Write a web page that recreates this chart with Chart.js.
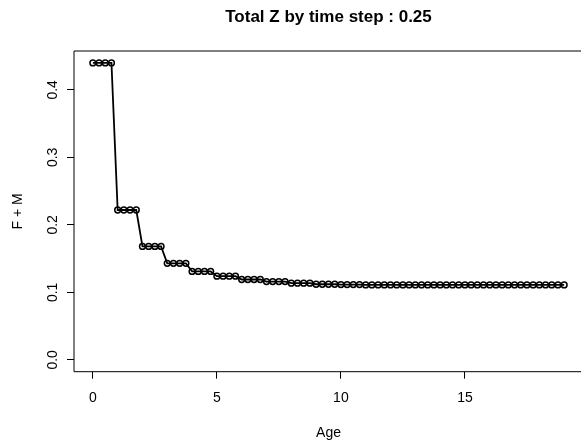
<!DOCTYPE html>
<html>
<head>
<meta charset="utf-8">
<script src="https://cdn.jsdelivr.net/npm/chart.js@4/dist/chart.umd.min.js"></script>
<style>
  html, body { margin: 0; padding: 0; background: #fff; overflow: hidden; }
  #wrap { width: 581px; height: 442px; overflow: hidden; }
</style>
</head>
<body>
<div id="wrap"><canvas id="zChart" width="640" height="442"></canvas></div>
<script>
// Age at each time step (0.25 yr)
const ages = [
  0, 0.25, 0.5, 0.75, 1, 1.25, 1.5, 1.75, 2, 2.25, 2.5, 2.75,
  3, 3.25, 3.5, 3.75, 4, 4.25, 4.5, 4.75, 5, 5.25, 5.5, 5.75,
  6, 6.25, 6.5, 6.75, 7, 7.25, 7.5, 7.75, 8, 8.25, 8.5, 8.75,
  9, 9.25, 9.5, 9.75, 10, 10.25, 10.5, 10.75, 11, 11.25, 11.5, 11.75,
  12, 12.25, 12.5, 12.75, 13, 13.25, 13.5, 13.75, 14, 14.25, 14.5, 14.75,
  15, 15.25, 15.5, 15.75, 16, 16.25, 16.5, 16.75, 17, 17.25, 17.5, 17.75,
  18, 18.25, 18.5, 18.75, 19
];

// Total Z (F + M)
const totalZ = [
  0.44, 0.44, 0.44, 0.44, 0.222, 0.222, 0.222, 0.222, 0.168, 0.168, 0.168, 0.168,
  0.143, 0.143, 0.143, 0.143, 0.131, 0.131, 0.131, 0.131, 0.124, 0.124, 0.124, 0.124,
  0.119, 0.119, 0.119, 0.119, 0.116, 0.116, 0.116, 0.116, 0.1135, 0.1135, 0.1135, 0.1135,
  0.112, 0.112, 0.112, 0.112, 0.1115, 0.1115, 0.1115, 0.1115, 0.111, 0.111, 0.111, 0.111,
  0.111, 0.111, 0.111, 0.111, 0.111, 0.111, 0.111, 0.111, 0.111, 0.111, 0.111, 0.111,
  0.111, 0.111, 0.111, 0.111, 0.111, 0.111, 0.111, 0.111, 0.111, 0.111, 0.111, 0.111,
  0.111, 0.111, 0.111, 0.111, 0.111
];

const xTicks = [0, 5, 10, 15];
const yTicks = [0, 0.1, 0.2, 0.3, 0.4];

// R style axis limits (range + 4% each side)
const xMin = -0.76, xMax = 19.76;
const yMin = -0.0176, yMax = 0.4576;

const FONT = '"Liberation Sans", Arial, sans-serif';

// box (right side falls outside the picture) and main title
const boxAndTitle = {
  id: "boxAndTitle",
  afterDatasetsDraw(chart) {
    const { ctx, chartArea: a } = chart;
    ctx.save();
    ctx.strokeStyle = "#000";
    ctx.lineWidth = 1;
    ctx.beginPath();
    ctx.moveTo(chart.width, a.top);
    ctx.lineTo(a.left, a.top);
    ctx.lineTo(a.left, a.bottom);
    ctx.lineTo(chart.width, a.bottom);
    ctx.stroke();
    ctx.fillStyle = "#000";
    ctx.font = "bold 17px " + FONT;
    ctx.textAlign = "center";
    ctx.textBaseline = "middle";
    ctx.fillText("Total Z by time step : 0.25", (a.left + a.right) / 2, 17);
    ctx.restore();
  },
};

const points = ages.map((a, i) => ({ x: a, y: totalZ[i] }));

new Chart(document.getElementById("zChart"), {
  type: "line",
  data: {
    datasets: [
      {
        data: points,
        borderColor: "#000",
        borderWidth: 1.8,
        pointRadius: 2.9,
        pointBorderWidth: 1.5,
        pointBorderColor: "#000",
        pointBackgroundColor: "rgba(0,0,0,0)",
        tension: 0,
        fill: false,
      },
    ],
  },
  options: {
    responsive: false,
    animation: false,
    devicePixelRatio: 1,
    layout: { padding: { top: 51, left: 0, right: 57, bottom: 0 } },
    plugins: {
      legend: { display: false },
      tooltip: { enabled: false },
      title: { display: false },
    },
    scales: {
      x: {
        type: "linear",
        min: xMin,
        max: xMax,
        afterBuildTicks: (axis) => {
          axis.ticks = xTicks.map((v) => ({ value: v }));
        },
        afterFit: (axis) => {
          axis.height = 70.3;
        },
        border: { display: false },
        grid: { drawOnChartArea: false, drawTicks: true, tickLength: 7, color: "#000" },
        ticks: {
          color: "#000",
          font: { family: FONT, size: 14 },
          padding: 11,
          maxRotation: 0,
          autoSkip: false,
          callback: (v) => String(v),
        },
        title: {
          display: true,
          text: "Age",
          color: "#000",
          font: { family: FONT, size: 14 },
          padding: { top: 2.6, bottom: 0 },
        },
      },
      y: {
        type: "linear",
        min: yMin,
        max: yMax,
        afterBuildTicks: (axis) => {
          axis.ticks = yTicks.map((v) => ({ value: v }));
        },
        afterFit: (axis) => {
          axis.width = 74;
        },
        border: { display: false },
        grid: { drawOnChartArea: false, drawTicks: true, tickLength: 7, color: "#000" },
        ticks: {
          color: "#000",
          font: { family: FONT, size: 14 },
          minRotation: 90,
          maxRotation: 90,
          crossAlign: "center",
          padding: 3.8,
          autoSkip: false,
          callback: (v) => v.toFixed(1),
        },
        title: {
          display: true,
          text: "F + M",
          color: "#000",
          font: { family: FONT, size: 14 },
          padding: { top: 9.6, bottom: 0 },
        },
      },
    },
  },
  plugins: [boxAndTitle],
});
</script>
</body>
</html>
